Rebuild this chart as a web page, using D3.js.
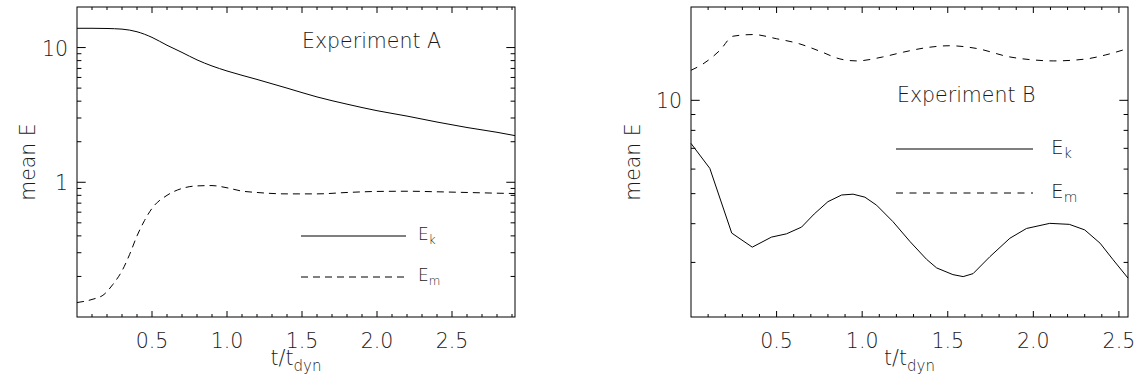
<!DOCTYPE html>
<html>
<head>
<meta charset="utf-8">
<script src="https://cdn.jsdelivr.net/npm/d3@7"></script>
<style>
  html, body { margin: 0; padding: 0; background: #fff; }
  svg { display: block; }
  text { font-family: "DejaVu Sans", sans-serif; font-weight: 200; fill: #1a1a1a; }
</style>
</head>
<body>
<div id="chart"></div>
<script>
// Experiment A (left panel)
const tA_k = [0, 0.1, 0.2, 0.3, 0.4, 0.5, 0.6, 0.7, 0.8, 0.9, 1.0, 1.2, 1.4, 1.6, 1.8, 2.0, 2.2, 2.4, 2.6, 2.8, 2.92];
const ekA  = [13.9, 13.9, 13.85, 13.7, 13.1, 11.9, 10.4, 9.2, 8.1, 7.3, 6.7, 5.8, 5.0, 4.3, 3.8, 3.4, 3.1, 2.8, 2.55, 2.35, 2.22];
const tA_m = [0, 0.1, 0.18, 0.24, 0.3, 0.35, 0.4, 0.45, 0.5, 0.6, 0.7, 0.8, 0.9, 1.0, 1.1, 1.2, 1.4, 1.6, 1.8, 2.0, 2.2, 2.4, 2.6, 2.8, 2.92];
const emA  = [0.128, 0.135, 0.147, 0.175, 0.22, 0.29, 0.40, 0.52, 0.64, 0.80, 0.90, 0.94, 0.945, 0.91, 0.86, 0.84, 0.82, 0.82, 0.84, 0.855, 0.858, 0.85, 0.84, 0.83, 0.825];

// Experiment B (right panel)
const tB_k = [0, 0.11, 0.238, 0.358, 0.47, 0.558, 0.646, 0.72, 0.80, 0.88, 0.947, 1.016, 1.084, 1.18, 1.28, 1.376, 1.435, 1.53, 1.59, 1.648, 1.746, 1.863, 1.96, 2.096, 2.21, 2.30, 2.39, 2.466, 2.553];
const ekB  = [7.26, 6.03, 3.73, 3.36, 3.62, 3.71, 3.90, 4.3, 4.71, 4.95, 4.98, 4.87, 4.59, 4.06, 3.50, 3.07, 2.88, 2.74, 2.70, 2.76, 3.13, 3.59, 3.86, 4.01, 3.98, 3.82, 3.46, 3.06, 2.67];
const tB_m = [0, 0.07, 0.169, 0.246, 0.363, 0.5, 0.636, 0.753, 0.87, 0.967, 1.12, 1.24, 1.38, 1.51, 1.668, 1.863, 2.0, 2.116, 2.31, 2.42, 2.553];
const emB  = [12.5, 13.1, 14.5, 16.1, 16.3, 15.8, 15.2, 14.4, 13.6, 13.4, 13.8, 14.3, 14.8, 15.0, 14.7, 13.8, 13.5, 13.4, 13.6, 14.0, 14.7];

// ticks
const xTickValues = [0.5, 1.0, 1.5, 2.0, 2.5];
const xTickLabels = ["0.5", "1.0", "1.5", "2.0", "2.5"];
const yTickValuesA = [1, 10];
const yTickLabelsA = ["1", "10"];
const yTickValuesB = [10];
const yTickLabelsB = ["10"];

const svg = d3.select('#chart').append('svg')
    .attr('width', 1143)
    .attr('height', 389);

const panels = [
    {
        left: 77, right: 515, top: 7, bottom: 317,
        xMax: 2.92, yDomain: [0.1, 20],
        yTicks: yTickValuesA, yLabels: yTickLabelsA,
        series: [
            { t: tA_k, v: ekA, dash: null, curve: d3.curveMonotoneX },
            { t: tA_m, v: emA, dash: '7,5', curve: d3.curveMonotoneX }
        ],
        title: 'Experiment A', titleX: 302, titleY: 48,
        legend: { x1: 301, x2: 406, yk: 236, ym: 277, textX: 418, size: 17, dash: '7,5' },
        yTitleX: 35
    },
    {
        left: 691, right: 1128, top: 7, bottom: 317,
        xMax: 2.553, yDomain: [2, 20],
        yTicks: yTickValuesB, yLabels: yTickLabelsB,
        series: [
            { t: tB_k, v: ekB, dash: null, curve: d3.curveLinear },
            { t: tB_m, v: emB, dash: '7,6.5', curve: d3.curveMonotoneX }
        ],
        title: 'Experiment B', titleX: 897, titleY: 102,
        legend: { x1: 896, x2: 1033, yk: 149, ym: 193, textX: 1051, size: 20, dash: '7,6.5' },
        yTitleX: 640
    }
];

panels.forEach(p => drawPanel(p));

function drawPanel(p) {
    const x = d3.scaleLinear().domain([0, p.xMax]).range([p.left, p.right]);
    const y = d3.scaleLog().domain(p.yDomain).range([p.bottom, p.top]);
    const g = svg.append('g');

    // frame
    g.append('rect')
        .attr('x', p.left).attr('y', p.top)
        .attr('width', p.right - p.left).attr('height', p.bottom - p.top)
        .attr('fill', 'none').attr('stroke', '#000').attr('stroke-width', 1);

    // x ticks (bottom + top, pointing inward)
    const xMinor = d3.range(1, Math.floor(p.xMax * 10 + 1e-6) + 1).map(i => i / 10)
        .filter(v => Math.abs(v * 2 - Math.round(v * 2)) > 1e-6);
    const xMajorLen = 6, xMinorLen = 3;
    const tickG = g.append('g').attr('stroke', '#000').attr('stroke-width', 1);
    xTickValues.forEach(v => {
        tickG.append('line').attr('x1', x(v)).attr('x2', x(v)).attr('y1', p.bottom).attr('y2', p.bottom - xMajorLen);
        tickG.append('line').attr('x1', x(v)).attr('x2', x(v)).attr('y1', p.top).attr('y2', p.top + xMajorLen);
    });
    xMinor.forEach(v => {
        tickG.append('line').attr('x1', x(v)).attr('x2', x(v)).attr('y1', p.bottom).attr('y2', p.bottom - xMinorLen);
        tickG.append('line').attr('x1', x(v)).attr('x2', x(v)).attr('y1', p.top).attr('y2', p.top + xMinorLen);
    });

    // y ticks (left + right)
    const yMajorLen = 8.7, yMinorLen = 4.4;
    const yAll = y.ticks().filter(v => v > p.yDomain[0] * 1.0001 && v < p.yDomain[1] * 0.9999);
    yAll.forEach(v => {
        const major = p.yTicks.includes(v);
        const len = major ? yMajorLen : yMinorLen;
        tickG.append('line').attr('x1', p.left).attr('x2', p.left + len).attr('y1', y(v)).attr('y2', y(v));
        tickG.append('line').attr('x1', p.right).attr('x2', p.right - len).attr('y1', y(v)).attr('y2', y(v));
    });

    // tick labels
    g.selectAll('text.xl').data(xTickValues).join('text')
        .attr('class', 'xl')
        .attr('x', d => x(d)).attr('y', p.bottom + 31)
        .attr('text-anchor', 'middle')
        .style('font-size', '20.5px')
        .text((d, i) => xTickLabels[i]);

    g.selectAll('text.yl').data(p.yTicks).join('text')
        .attr('class', 'yl')
        .attr('x', p.left - 9).attr('y', d => y(d) + 8)
        .attr('text-anchor', 'end')
        .style('font-size', '20.5px')
        .text((d, i) => p.yLabels[i]);

    // axis titles
    const xt = g.append('text')
        .attr('x', (p.left + p.right) / 2).attr('y', p.bottom + 48)
        .attr('text-anchor', 'middle')
        .style('font-size', '20.5px');
    xt.append('tspan').text('t/t');
    xt.append('tspan').attr('dy', 6).style('font-size', '15px').text('dyn');

    g.append('text')
        .attr('transform', `translate(${p.yTitleX},${(p.top + p.bottom) / 2}) rotate(-90)`)
        .attr('text-anchor', 'middle')
        .style('font-size', '20.5px')
        .text('mean E');

    // curves
    p.series.forEach(s => {
        const line = d3.line()
            .x((d, i) => x(s.t[i]))
            .y(d => y(d))
            .curve(s.curve);
        g.append('path')
            .datum(s.v)
            .attr('d', line)
            .attr('fill', 'none')
            .attr('stroke', '#000')
            .attr('stroke-width', 1)
            .attr('stroke-dasharray', s.dash);
    });

    // title
    g.append('text')
        .attr('x', p.titleX).attr('y', p.titleY)
        .style('font-size', '20.5px')
        .text(p.title);

    // legend
    const L = p.legend;
    g.append('line').attr('x1', L.x1).attr('x2', L.x2).attr('y1', L.yk).attr('y2', L.yk)
        .attr('stroke', '#000').attr('stroke-width', 1);
    g.append('line').attr('x1', L.x1).attr('x2', L.x2).attr('y1', L.ym).attr('y2', L.ym)
        .attr('stroke', '#000').attr('stroke-width', 1).attr('stroke-dasharray', L.dash);
    [['k', L.yk], ['m', L.ym]].forEach(([sub, yy]) => {
        const t = g.append('text')
            .attr('x', L.textX).attr('y', yy + L.size * 0.25)
            .style('font-size', L.size + 'px');
        t.append('tspan').text('E');
        t.append('tspan').attr('dy', L.size * 0.22).style('font-size', (L.size * 0.7) + 'px').text(sub);
    });
}
</script>
</body>
</html>
